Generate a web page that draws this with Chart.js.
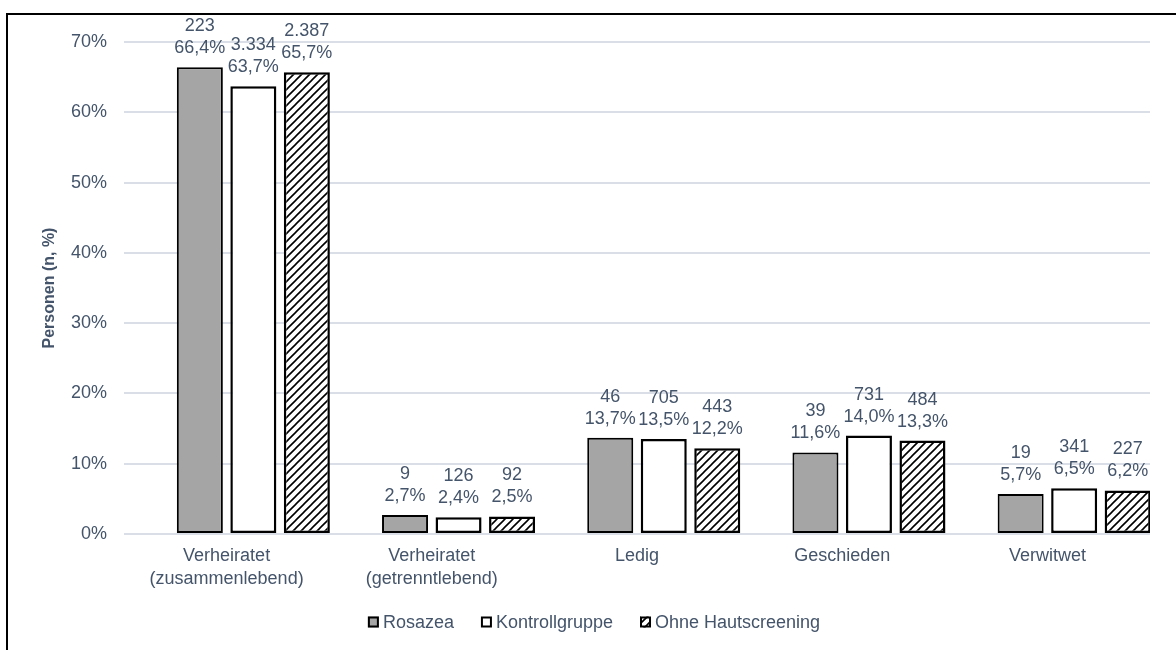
<!DOCTYPE html>
<html>
<head>
<meta charset="utf-8">
<script src="https://cdn.jsdelivr.net/npm/chart.js@4"></script>
<style>
  html, body { margin: 0; padding: 0; background: #fff; }
  #wrap { position: relative; width: 1176px; height: 650px; overflow: hidden; }
  #frame { position: absolute; left: 6px; top: 13px; width: 1300px; height: 800px;
           border-top: 2px solid #000; border-left: 2px solid #000; }
  canvas { position: absolute; left: 0; top: 0; }
</style>
</head>
<body>
<div id="wrap">
  <div id="frame"></div>
  <canvas id="c" width="1176" height="650"></canvas>
</div>
<script>
// Familienstand nach Gruppe: Anzahl (n) und Anteil (%)
const categories = [
  ['Verheiratet', '(zusammenlebend)'],
  ['Verheiratet', '(getrenntlebend)'],
  'Ledig',
  'Geschieden',
  'Verwitwet'
];
const seriesNames = ['Rosazea', 'Kontrollgruppe', 'Ohne Hautscreening'];

const rosazeaN = [223, 9, 46, 39, 19];
const rosazeaPct = [66.4, 2.7, 13.7, 11.6, 5.7];

const kontrollN = [3334, 126, 705, 731, 341];
const kontrollPct = [63.7, 2.4, 13.5, 14.0, 6.5];

const ohneN = [2387, 92, 443, 484, 227];
const ohnePct = [65.7, 2.5, 12.2, 13.3, 6.2];

const yMax = 70;
const yStep = 10;

const FONT = '"Liberation Sans", Arial, sans-serif';
const TEXT = '#44546A';
const GRID = '#DADFE7';

// diagonal hatch fill ("/" lines) for the third series
function makeHatch(ctx) {
  const s = 8;
  const c = document.createElement('canvas');
  c.width = s; c.height = s;
  const g = c.getContext('2d');
  g.fillStyle = '#fff';
  g.fillRect(0, 0, s, s);
  g.strokeStyle = '#000';
  g.lineWidth = 1.6;
  g.beginPath();
  g.moveTo(-1, s + 1); g.lineTo(s + 1, -1);
  g.moveTo(-1, 1); g.lineTo(1, -1);
  g.moveTo(s - 1, s + 1); g.lineTo(s + 1, s - 1);
  g.stroke();
  return ctx.createPattern(c, 'repeat');
}

const canvas = document.getElementById('c');
const ctx2d = canvas.getContext('2d');
const hatch = makeHatch(ctx2d);

const fmtN = n => String(n).replace(/\B(?=(\d{3})+(?!\d))/g, '.');
const fmtP = p => p.toFixed(1).replace('.', ',') + '%';

// two-line value labels above each bar: n, then %
const valueLabels = {
  id: 'valueLabels',
  afterDatasetsDraw(chart) {
    const ctx = chart.ctx;
    ctx.save();
    ctx.font = '18px ' + FONT;
    ctx.fillStyle = TEXT;
    ctx.textAlign = 'center';
    ctx.textBaseline = 'alphabetic';
    chart.data.datasets.forEach((ds, i) => {
      if (!ds.counts) return;
      chart.getDatasetMeta(i).data.forEach((bar, j) => {
        const base = bar.y - 14;
        ctx.fillText(fmtP(ds.data[j]), bar.x, base);
        ctx.fillText(fmtN(ds.counts[j]), bar.x, base - 22);
      });
    });
    ctx.restore();
  }
};

// legend row below the category labels
const legendRow = {
  id: 'legendRow',
  afterDraw(chart) {
    const ctx = chart.ctx;
    ctx.save();
    ctx.font = '18px ' + FONT;
    const items = chart.data.datasets.filter(d => d.counts);
    const box = 11, gapBox = 4, gapItem = 27;
    const widths = items.map(d => box + gapBox + ctx.measureText(d.label).width);
    const total = widths.reduce((a, b) => a + b, 0) + gapItem * (items.length - 1);
    let x = 594 - total / 2;
    const cy = 622;
    items.forEach((d, k) => {
      ctx.fillStyle = d.backgroundColor;
      ctx.fillRect(x, cy - box / 2, box, box);
      ctx.strokeStyle = '#000';
      ctx.lineWidth = 2;
      ctx.strokeRect(x + 1, cy - box / 2 + 1, box - 2, box - 2);
      ctx.fillStyle = TEXT;
      ctx.textAlign = 'left';
      ctx.textBaseline = 'middle';
      ctx.fillText(d.label, x + box + gapBox, cy + 1);
      x += widths[k] + gapItem;
    });
    ctx.restore();
  }
};

new Chart(ctx2d, {
  type: 'bar',
  data: {
    labels: categories,
    datasets: [
      // empty leading slot in every category group
      { label: '', data: categories.map(() => null), backgroundColor: 'rgba(0,0,0,0)', borderWidth: 0 },
      { label: seriesNames[0], data: rosazeaPct, counts: rosazeaN,
        backgroundColor: '#A5A5A5', borderColor: '#000', borderWidth: 2 },
      { label: seriesNames[1], data: kontrollPct, counts: kontrollN,
        backgroundColor: '#FFFFFF', borderColor: '#000', borderWidth: 2.5 },
      { label: seriesNames[2], data: ohnePct, counts: ohneN,
        backgroundColor: hatch, borderColor: '#000', borderWidth: 2.5 }
    ]
  },
  options: {
    responsive: false,
    animation: false,
    datasets: {
      bar: { categoryPercentage: 1.043, barPercentage: 0.86, borderSkipped: false }
    },
    layout: { padding: { top: 42, right: 26, left: 0, bottom: 0 } },
    plugins: {
      legend: { display: false },
      tooltip: { enabled: false }
    },
    scales: {
      x: {
        grid: { display: false },
        border: { display: false },
        ticks: {
          color: TEXT,
          font: { family: FONT, size: 18, lineHeight: 1.27 },
          padding: 3,
          maxRotation: 0,
          autoSkip: false
        },
        afterFit(s) { s.height = 116; }
      },
      y: {
        min: 0,
        max: yMax,
        ticks: {
          stepSize: yStep,
          callback: v => v + '%',
          color: TEXT,
          font: { family: FONT, size: 18 },
          padding: 17
        },
        grid: { color: GRID, lineWidth: 2, drawTicks: false },
        border: { display: false },
        title: {
          display: true,
          text: 'Personen (n, %)',
          color: TEXT,
          font: { family: FONT, size: 16, weight: 'bold' },
          padding: { top: 40, bottom: 0 }
        },
        afterFit(s) { s.width = 124; }
      }
    }
  },
  plugins: [valueLabels, legendRow]
});
</script>
</body>
</html>
